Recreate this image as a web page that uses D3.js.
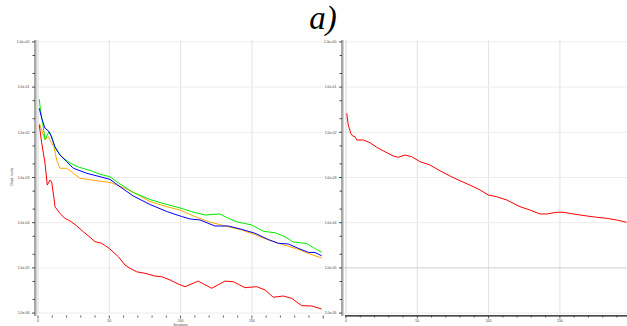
<!DOCTYPE html>
<html>
<head>
<meta charset="utf-8">
<script src="https://cdn.jsdelivr.net/npm/d3@7"></script>
<style>
  body { margin: 0; background: #fff; }
  svg { display: block; }
  .lbl { font-family: "Liberation Sans", Arial, sans-serif; font-size: 3.5px; fill: #444; }
</style>
</head>
<body>
<svg id="chart" width="627" height="326"></svg>
<script>
// [iteration, value] pairs
const leftGreen = [[0.9,0.0537],[1.75,0.0311],[3.3,0.0158],[4.9,0.0070],[6.5,0.0087],[7.9,0.0103],[9.6,0.0080],
  [11.9,0.00442],[16.6,0.00288],[22.4,0.00209],[28.3,0.00171],[36.5,0.00143],[43.5,0.00118],[50.5,0.00104],
  [57.5,7.18e-4],[66.8,4.66e-4],[78.5,3.26e-4],[90.3,2.53e-4],[99.6,2.12e-4],[107.8,1.75e-4],[117.1,1.48e-4],
  [127.6,1.56e-4],[133.5,1.25e-4],[139.3,1.05e-4],[149.9,8.9e-5],[158.0,6.45e-5],[166.2,6.0e-5],[173.2,4.9e-5],
  [179.0,3.74e-5],[188.4,3.47e-5],[193.1,2.83e-5],[198.9,2.22e-5]];
const leftBlue = [[0.9,0.0340],[2.6,0.0204],[4.9,0.0123],[7.2,0.0108],[8.9,0.0087],[11.9,0.0048],[15.4,0.00315],
  [20.1,0.00224],[24.8,0.00160],[34.2,0.00124],[43.5,0.00104],[50.5,9.1e-4],[57.5,6.25e-4],[66.8,3.9e-4],
  [78.5,2.53e-4],[90.3,1.77e-4],[100.8,1.37e-4],[106.6,1.21e-4],[113.6,1.15e-4],[124.1,8.45e-5],[133.5,8.45e-5],
  [142.8,7.14e-5],[152.2,5.83e-5],[161.5,4.25e-5],[168.5,3.5e-5],[175.5,3.38e-5],[182.5,2.71e-5],[189.6,2.21e-5],
  [194.2,2.19e-5],[198.9,1.86e-5]];
const leftOrange = [[0.9,0.0158],[2.6,0.0112],[4.9,0.00676],[7.2,0.0080],[8.9,0.0062],[11.2,0.0048],[13.1,0.00244],
  [15.4,0.00160],[20.1,0.00160],[24.8,0.00124],[29.5,9.6e-4],[41.2,8.5e-4],[50.5,7.75e-4],[59.8,6.0e-4],
  [69.2,4.32e-4],[78.5,2.94e-4],[90.3,2.26e-4],[99.6,1.91e-4],[108.9,1.41e-4],[119.4,1.06e-4],[131.1,8.45e-5],
  [142.8,6.9e-5],[152.2,5.43e-5],[161.5,4.14e-5],[172.0,3.24e-5],[181.4,2.65e-5],[190.7,2.03e-5],[198.9,1.66e-5]];
const leftRed = [[0.9,1.45e-2],[2.6,5.8e-3],[4.9,2.1e-3],[6.5,6.8e-4],[8.4,8.8e-4],[9.6,7.9e-4],[11.2,3.5e-4],
  [11.9,2.26e-4],[15.4,1.6e-4],[18.9,1.25e-4],[22.4,1.1e-4],[27.1,8.5e-5],[31.8,6.3e-5],[36.5,4.75e-5],[40.0,3.8e-5],
  [44.7,3.5e-5],[50.0,2.7e-5],[56.3,1.77e-5],[61.0,1.16e-5],[64.5,9.8e-6],[69.2,8.2e-6],[75.0,7.6e-6],[82.0,6.6e-6],
  [86.7,6.4e-6],[92.6,5.4e-6],[98.4,4.4e-6],[103.1,3.84e-6],[112.4,5.1e-6],[121.8,3.54e-6],[131.1,5.1e-6],
  [137.0,4.95e-6],[145.2,3.65e-6],[153.4,3.84e-6],[159.2,3.25e-6],[165.0,2.24e-6],[172.0,2.39e-6],[177.9,2.12e-6],
  [184.9,1.46e-6],[191.9,1.44e-6],[198.9,1.23e-6]];
const rightRed = [[0.5,0.0263],[1.6,0.0145],[3.3,0.0095],[4.7,0.00828],[6.3,0.0080],[7.5,0.00676],[12.1,0.00676],
  [16.8,0.00589],[21.5,0.00466],[27.3,0.00372],[33.2,0.00299],[36.7,0.00280],[41.4,0.00315],[46.1,0.00288],
  [51.9,0.00224],[58.9,0.00189],[65.9,0.00141],[72.9,0.00108],[79.9,8.5e-4],[86.9,6.8e-4],[94.0,5.3e-4],
  [99.8,4.1e-4],[105.7,3.76e-4],[112.7,3.18e-4],[122.0,2.26e-4],[129.0,1.91e-4],[136.0,1.56e-4],[140.7,1.56e-4],
  [147.8,1.70e-4],[152.4,1.70e-4],[159.4,1.56e-4],[168.8,1.41e-4],[175.8,1.32e-4],[182.8,1.25e-4],[189.8,1.15e-4],
  [196.8,1.02e-4]];

const yTicks = [1, 1e-1, 1e-2, 1e-3, 1e-4, 1e-5, 1e-6];
const yTickLabels = ['1.0e+00', '1.0e-01', '1.0e-02', '1.0e-03', '1.0e-04', '1.0e-05', '1.0e-06'];
const xTicks = [0, 50, 100, 150];
const xTickLabels = ['0', '50', '100', '150'];

const svg = d3.select('#chart');
const y = d3.scaleLog().domain([1e-6, 1]).range([313.1, 41.9]);
const yMinor = [];
yTicks.slice(0, -1).forEach(d => { yMinor.push(d * 0.5, d * 0.2); });

// title
svg.append('text')
  .attr('x', 323).attr('y', 29)
  .attr('text-anchor', 'middle')
  .attr('font-family', '"Liberation Serif", "Times New Roman", serif')
  .attr('font-style', 'italic')
  .attr('font-size', 33)
  .text('a)');

function panel(x0, axisX, series, opts) {
  const x = d3.scaleLinear().domain([0, 200]).range([x0, x0 + 285.2]);
  const g = svg.append('g');

  // grid
  g.selectAll('.vg').data([0, ...xTicks]).join('line')
    .attr('x1', d => x(d)).attr('x2', d => x(d))
    .attr('y1', 40).attr('y2', 313.5)
    .attr('stroke', '#e2e2e2').attr('stroke-width', 1);
  g.selectAll('.hg').data(yTicks).join('line')
    .attr('x1', axisX).attr('x2', x(200))
    .attr('y1', d => y(d)).attr('y2', d => y(d))
    .attr('stroke', d => (opts.darkGrid === d ? '#cfcfcf' : '#ececec')).attr('stroke-width', 1);

  // y axis bar
  g.append('rect').attr('x', axisX - 1.5).attr('y', 40).attr('width', 2.5).attr('height', 276)
    .attr('fill', '#a8a8a8');

  // y ticks
  g.selectAll('.yt').data(yTicks).join('line')
    .attr('x1', axisX - 3.5).attr('x2', axisX - 0.5)
    .attr('y1', d => y(d)).attr('y2', d => y(d))
    .attr('stroke', '#222').attr('stroke-width', 0.8);
  g.selectAll('.ym').data(yMinor).join('line')
    .attr('x1', axisX - 3).attr('x2', axisX - 0.5)
    .attr('y1', d => y(d)).attr('y2', d => y(d))
    .attr('stroke', '#222').attr('stroke-width', 0.8);
  g.selectAll('.yl').data(yTicks).join('text')
    .attr('class', 'lbl')
    .attr('x', axisX - 6).attr('y', d => y(d) + 1.2)
    .attr('text-anchor', 'end')
    .text((d, i) => yTickLabels[i]);

  // x axis
  if (opts.blackAxis) {
    g.append('line').attr('x1', x(0) - 1).attr('x2', x(200))
      .attr('y1', 315.8).attr('y2', 315.8).attr('stroke', '#111').attr('stroke-width', 1.3);
  }
  g.selectAll('.xt').data(d3.range(0, 201, 10)).join('line')
    .attr('x1', d => x(d)).attr('x2', d => x(d))
    .attr('y1', 315.5).attr('y2', d => d % 50 === 0 ? 318.5 : 317.5)
    .attr('stroke', '#333').attr('stroke-width', 0.8);
  g.selectAll('.xl').data(xTicks).join('text')
    .attr('class', 'lbl')
    .attr('x', d => x(d)).attr('y', 322)
    .attr('text-anchor', 'middle')
    .text((d, i) => xTickLabels[i]);

  const line = d3.line().x(d => x(d[0])).y(d => y(d[1]));
  series.forEach(s => {
    g.append('path').datum(s.data)
      .attr('d', line)
      .attr('fill', 'none')
      .attr('stroke', s.color)
      .attr('stroke-width', 1);
  });
  return x;
}

const xl = panel(38, 35.5, [
  {data: leftOrange, color: '#ffa800'},
  {data: leftGreen, color: '#00ee00'},
  {data: leftBlue, color: '#0000ff'},
  {data: leftRed, color: '#ff0000'}
], {});

panel(346, 342.5, [
  {data: rightRed, color: '#ff0000'}
], {blackAxis: true, darkGrid: 1e-5});

// axis titles (tiny)
svg.append('text').attr('class', 'lbl')
  .attr('transform', 'translate(13,177) rotate(-90)')
  .attr('text-anchor', 'middle')
  .text('Grad. norm');
svg.append('text').attr('class', 'lbl')
  .attr('x', xl(100)).attr('y', 325.8)
  .attr('text-anchor', 'middle')
  .text('Iterations');
</script>
</body>
</html>
